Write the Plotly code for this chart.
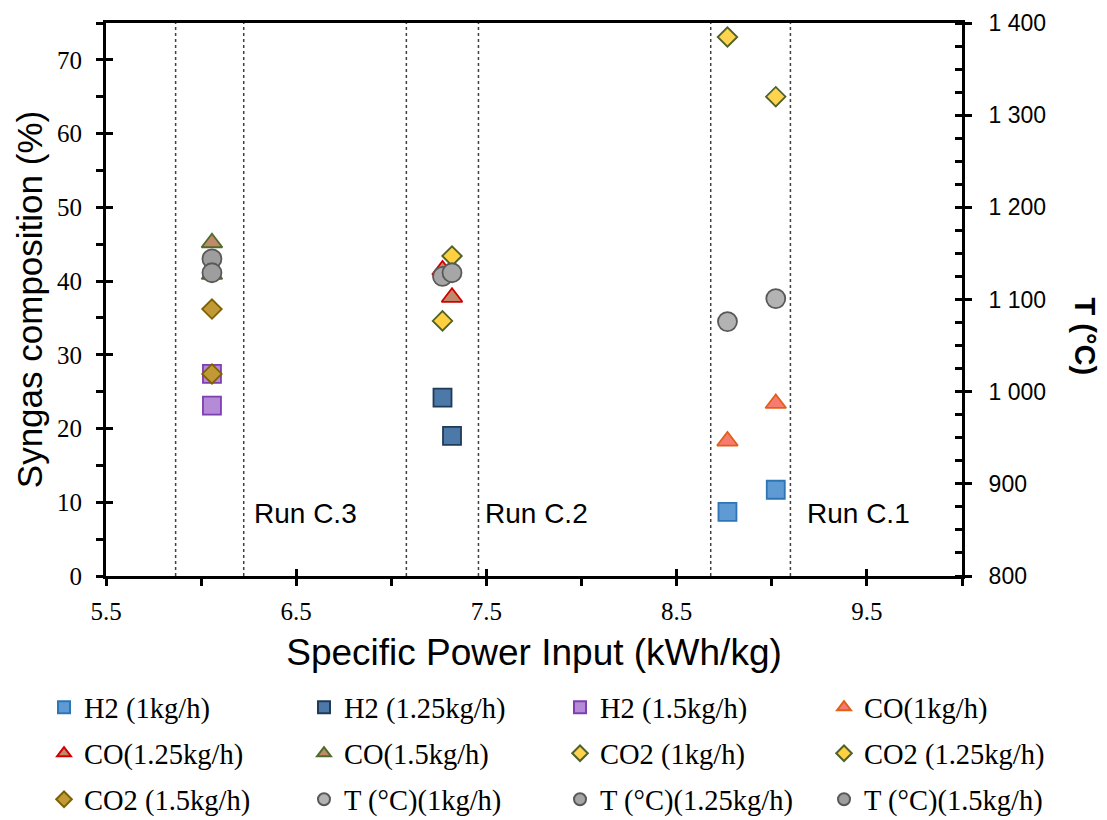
import plotly.graph_objects as go

# Specific power input (kWh/kg) per feed rate
spi_1 = [8.767, 9.021]
spi_125 = [7.269, 7.319]
spi_15 = [6.057, 6.057]

# Syngas composition (%)
h2_1 = [8.7, 11.7]
h2_125 = [24.2, 19.0]
h2_15 = [27.4, 23.1]
co_1 = [18.3, 23.4]
co_125 = [41.5, 37.8]
co_15 = [45.2, 40.9]
co2_1 = [73.1, 65.0]
co2_125 = [34.6, 43.4]
co2_15 = [36.2, 27.4]

# Temperature (°C)
t_1 = [1076, 1101]
t_125 = [1125, 1129]
t_15 = [1144, 1129]

# Run boundaries (kWh/kg) and run names
run_bounds = [5.866, 6.224, 7.079, 7.458, 8.679, 9.098]
run_names = ["Run C.3", "Run C.2", "Run C.1"]
run_label_x = [6.265, 7.48, 9.173]
run_label_y = [8.5, 8.5, 8.5]

series = [
    ("H2 (1kg/h)", spi_1, h2_1, "y", "square", 18, "#5E9AD3", "#2E75B6"),
    ("H2 (1.25kg/h)", spi_125, h2_125, "y", "square", 18, "#4D79A8", "#203A5A"),
    ("H2 (1.5kg/h)", spi_15, h2_15, "y", "square", 18, "#B58AD6", "#7E3FB0"),
    ("CO(1kg/h)", spi_1, co_1, "y", "triangle-up", 18, "#F77B70", "#E0601A"),
    ("CO(1.25kg/h)", spi_125, co_125, "y", "triangle-up", 18, "#C08A6A", "#D00000"),
    ("CO(1.5kg/h)", spi_15, co_15, "y", "triangle-up", 18, "#C08A6A", "#4E6B2A"),
    ("CO2 (1kg/h)", spi_1, co2_1, "y", "diamond", 15, "#FFD34D", "#4F6228"),
    ("CO2 (1.25kg/h)", spi_125, co2_125, "y", "diamond", 15, "#FFD040", "#4F6228"),
    ("CO2 (1.5kg/h)", spi_15, co2_15, "y", "diamond", 15, "#C29A35", "#7F6000"),
    ("T (°C)(1kg/h)", spi_1, t_1, "y2", "circle", 19, "#B3B3B3", "#595959"),
    ("T (°C)(1.25kg/h)", spi_125, t_125, "y2", "circle", 19, "#A6A6A6", "#595959"),
    ("T (°C)(1.5kg/h)", spi_15, t_15, "y2", "circle", 19, "#9E9E9E", "#595959"),
]

legend_ids = ["legend", "legend2", "legend3", "legend4"]

fig = go.Figure()
for i, (name, xs, ys, yax, sym, size, fill, edge) in enumerate(series):
    fig.add_trace(go.Scatter(
        x=xs, y=ys, yaxis=yax, mode="markers", name=name,
        legend=legend_ids[i % 4], legendgroup=name,
        marker=dict(symbol=sym, size=size, color=fill,
                    line=dict(color=edge, width=1.8)),
    ))

# empty traces that carry the inner halves of the crossing ticks
fig.add_trace(go.Scatter(x=[], y=[], xaxis="x2", yaxis="y", showlegend=False, hoverinfo="skip"))
fig.add_trace(go.Scatter(x=[], y=[], yaxis="y3", showlegend=False, hoverinfo="skip"))
fig.add_trace(go.Scatter(x=[], y=[], yaxis="y4", showlegend=False, hoverinfo="skip"))

for b in run_bounds:
    fig.add_shape(type="line", xref="x", yref="paper", x0=b, x1=b, y0=0, y1=1,
                  line=dict(color="#404040", width=1.5, dash="dot"), layer="below")

for name, lx, ly in zip(run_names, run_label_x, run_label_y):
    fig.add_annotation(x=lx, y=ly, xref="x", yref="y", text=name, showarrow=False,
                       xanchor="left", yanchor="middle",
                       font=dict(family="Liberation Sans, Arial", size=28, color="black"))

fig.add_annotation(x=1.1437, y=0.433, xref="paper", yref="paper", text="<b>T (°C)</b>",
                   showarrow=False, textangle=90, xanchor="center", yanchor="middle",
                   font=dict(family="Liberation Sans, Arial", size=29, color="black"))

serif = "Liberation Serif, Times New Roman"
sans = "Liberation Sans, Arial"
xr = [5.5, 10]
yr = [0, 75]
y2r = [800, 1400]

legend_style = dict(
    orientation="v", y=-0.192, yanchor="top", xanchor="left",
    font=dict(family=serif, size=28.5, color="black"), itemsizing="constant",
    bgcolor="rgba(0,0,0,0)", tracegroupgap=6, traceorder="grouped",
)
legend_x = [-0.0724, 0.2313, 0.5304, 0.8388]

fig.update_layout(
    width=1107, height=820,
    margin=dict(l=106, r=145, t=23, b=244, autoexpand=False),
    paper_bgcolor="white", plot_bgcolor="white",
    separators=". ",
    showlegend=True,
    xaxis=dict(
        range=xr, autorange=False, tick0=5.5, dtick=1, tickformat=".1f",
        ticks="outside", ticklen=7, tickwidth=3, tickcolor="black",
        minor=dict(dtick=0.5, tick0=5.5, ticks="outside", ticklen=7, tickwidth=3, tickcolor="black"),
        showline=True, linewidth=3, linecolor="black", mirror=True,
        showgrid=False, zeroline=False,
        tickfont=dict(family=serif, size=25, color="black"), ticklabelstandoff=4,
        title=dict(text="Specific Power Input (kWh/kg)", standoff=16,
                   font=dict(family=sans, size=37, color="black")),
    ),
    xaxis2=dict(
        overlaying="x", anchor="y", range=xr, autorange=False, tick0=5.5, dtick=1,
        ticks="inside", ticklen=7, tickwidth=3, tickcolor="black",
        showticklabels=False, showline=False, showgrid=False, zeroline=False,
    ),
    yaxis=dict(
        range=yr, autorange=False, dtick=10,
        ticks="outside", ticklen=7, tickwidth=2.5, tickcolor="black",
        minor=dict(dtick=5, ticks="outside", ticklen=7, tickwidth=2.5, tickcolor="black"),
        showline=True, linewidth=3, linecolor="black",
        showgrid=False, zeroline=False,
        tickfont=dict(family=serif, size=25, color="black"), ticklabelstandoff=9,
        title=dict(text="Syngas composition (%)", standoff=4,
                   font=dict(family=sans, size=35, color="black")),
    ),
    yaxis2=dict(
        overlaying="y", side="right", anchor="x", range=y2r, autorange=False, dtick=100,
        tickformat=",d",
        ticks="outside", ticklen=7, tickwidth=2.5, tickcolor="black",
        minor=dict(dtick=25, ticks="inside", ticklen=7, tickwidth=2.5, tickcolor="black"),
        showline=True, linewidth=3, linecolor="black",
        showgrid=False, zeroline=False,
        tickfont=dict(family=sans, size=23, color="black"), ticklabelstandoff=12,
    ),
    yaxis3=dict(
        overlaying="y", side="left", anchor="x", range=yr, autorange=False, dtick=10,
        ticks="inside", ticklen=7, tickwidth=2.5, tickcolor="black",
        showticklabels=False, showline=False, showgrid=False, zeroline=False,
    ),
    yaxis4=dict(
        overlaying="y", side="right", anchor="x", range=y2r, autorange=False, dtick=100,
        ticks="inside", ticklen=7, tickwidth=2.5, tickcolor="black",
        showticklabels=False, showline=False, showgrid=False, zeroline=False,
    ),
    legend=dict(legend_style, x=legend_x[0]),
    legend2=dict(legend_style, x=legend_x[1]),
    legend3=dict(legend_style, x=legend_x[2]),
    legend4=dict(legend_style, x=legend_x[3]),
)

fig.write_html("out.html")
